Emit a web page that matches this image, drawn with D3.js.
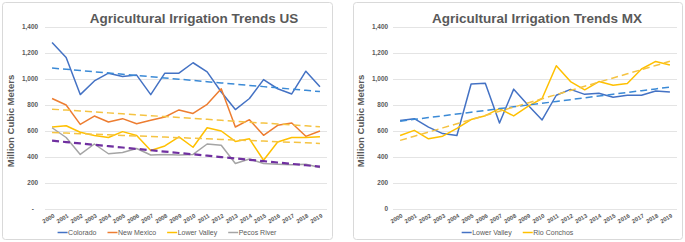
<!DOCTYPE html>
<html>
<head>
<meta charset="utf-8">
<script src="https://cdn.jsdelivr.net/npm/d3@7"></script>
<style>
  body { margin: 0; background: #fff; }
  svg { display: block; font-family: "Liberation Sans", Arial, sans-serif; }
</style>
</head>
<body>
<div id="charts"></div>
<script>
const years = ["2000","2001","2002","2003","2004","2005","2006","2007","2008","2009",
               "2010","2011","2012","2013","2014","2015","2016","2017","2018","2019"];
const yTicks = [0, 200, 400, 600, 800, 1000, 1200, 1400];

// US basins
const colorado     = [1280,1165,880,985,1045,1020,1030,880,1045,1045,1125,1055,900,765,850,995,925,885,1060,940];
const newMexico    = [850,800,651,715,669,695,656,682,708,762,735,805,925,631,687,567,644,662,559,600];
const lowerValleyUS = [630,640,590,565,550,595,565,450,485,555,475,625,600,520,540,375,515,550,550,555];
const pecosRiver   = [625,550,420,500,425,435,465,415,420,415,420,500,490,350,385,350,345,340,345,320];

// MX basins
const lowerValleyMX = [680,695,630,580,565,962,968,662,922,800,685,875,920,882,890,860,875,875,908,900];
const rioConchos    = [565,605,540,560,620,688,718,772,716,790,850,1102,980,917,980,952,965,1077,1135,1108];

const charts = [
  {
    title: "Agricultural Irrigation Trends US",
    box: {x: 2, y: 2, w: 330, h: 237},
    plot: {left: 45, right: 327},
    titleX: 194, labelX: 38, axisTitleX: 14, zeroLabel: "-",
    series: [
      {name: "Colorado", values: colorado, color: "#4472c4", trend: "#3b8ad6", tw: 1.5},
      {name: "New Mexico", values: newMexico, color: "#ed7d31", trend: "#f5c342", tw: 1.5},
      {name: "Lower Valley", values: lowerValleyUS, color: "#ffc000", trend: "#f5c342", tw: 1.5},
      {name: "Pecos River", values: pecosRiver, color: "#a5a5a5", trend: "#7030a0", tw: 2.2},
    ]
  },
  {
    title: "Agricultural Irrigation Trends MX",
    box: {x: 353, y: 2, w: 329, h: 237},
    plot: {left: 393, right: 677},
    titleX: 537, labelX: 388, axisTitleX: 364, zeroLabel: "0",
    series: [
      {name: "Lower Valley", values: lowerValleyMX, color: "#4472c4", trend: "#3b8ad6", tw: 1.5},
      {name: "Rio Conchos", values: rioConchos, color: "#ffc000", trend: "#f5c342", tw: 1.5},
    ]
  }
];

const svg = d3.select("#charts").append("svg")
  .attr("width", 685)
  .attr("height", 242);

const y = d3.scaleLinear().domain([0, 1400]).range([209, 27]);

// least squares line like the excel trendline
function trendline(vals) {
  const n = vals.length;
  const mx = (n - 1) / 2, my = d3.mean(vals);
  let sxy = 0, sxx = 0;
  vals.forEach((v, i) => { sxy += (i - mx) * (v - my); sxx += (i - mx) * (i - mx); });
  const b = sxy / sxx, a = my - b * mx;
  return vals.map((v, i) => a + b * i);
}

charts.forEach(c => {
  const g = svg.append("g");

  g.append("rect")
    .attr("x", c.box.x + 0.5).attr("y", c.box.y + 0.5)
    .attr("width", c.box.w).attr("height", c.box.h)
    .attr("rx", 3)
    .attr("fill", "#fff")
    .attr("stroke", "#d9d9d9");

  const x = d3.scalePoint()
    .domain(years)
    .range([c.plot.left, c.plot.right])
    .padding(0.5);

  // gridlines
  g.selectAll(".grid")
    .data(yTicks)
    .join("line")
    .attr("x1", c.plot.left).attr("x2", c.plot.right)
    .attr("y1", d => Math.round(y(d)) + 0.5).attr("y2", d => Math.round(y(d)) + 0.5)
    .attr("stroke", "#e4e4e4");

  // y labels
  g.selectAll(".ylab")
    .data(yTicks)
    .join("text")
    .attr("x", d => (d === 0 && c.zeroLabel === "-") ? c.labelX - 4 : c.labelX)
    .attr("y", d => y(d) + 2.3)
    .attr("text-anchor", "end")
    .attr("font-size", "6.4px")
    .attr("font-weight", "bold")
    .attr("fill", "#595959")
    .text(d => d === 0 ? c.zeroLabel : d3.format(",")(d));

  // x labels
  g.selectAll(".xlab")
    .data(years)
    .join("text")
    .attr("text-anchor", "end")
    .attr("font-size", "5.8px")
    .attr("font-weight", "bold")
    .attr("fill", "#595959")
    .attr("transform", d => `translate(${x(d) + 3},${217}) rotate(-30)`)
    .text(d => d);

  // axis title
  g.append("text")
    .attr("transform", `translate(${c.axisTitleX},${(y(0) + y(1400)) / 2 + 3}) rotate(-90)`)
    .attr("text-anchor", "middle")
    .attr("font-size", "9.5px")
    .attr("font-weight", "bold")
    .attr("fill", "#595959")
    .text("Million Cubic Meters");

  // title
  g.append("text")
    .attr("x", c.titleX)
    .attr("y", 23)
    .attr("text-anchor", "middle")
    .attr("font-size", "13.5px")
    .attr("font-weight", "bold")
    .attr("fill", "#595959")
    .text(c.title);

  const line = d3.line()
    .x((d, i) => x(years[i]))
    .y(d => y(d));

  c.series.forEach(s => {
    g.append("path")
      .attr("d", line(s.values))
      .attr("fill", "none")
      .attr("stroke", s.color)
      .attr("stroke-width", 1.5)
      .attr("stroke-linejoin", "round");
  });
  c.series.forEach(s => {
    g.append("path")
      .attr("d", line(trendline(s.values)))
      .attr("fill", "none")
      .attr("stroke", s.trend)
      .attr("stroke-width", s.tw)
      .attr("stroke-dasharray", "7,4");
  });

  // legend, centred in the panel
  const leg = g.append("g");
  let off = 0;
  c.series.forEach(s => {
    const item = leg.append("g").attr("transform", `translate(${off},0)`);
    item.append("line")
      .attr("x1", 0).attr("x2", 10)
      .attr("y1", 0).attr("y2", 0)
      .attr("stroke", s.color).attr("stroke-width", 1.5);
    const t = item.append("text")
      .attr("x", 10.5).attr("y", 2.5)
      .attr("font-size", "7px")
      .attr("fill", "#595959")
      .text(s.name);
    off += 10.5 + t.node().getComputedTextLength() + 11;
  });
  off -= 11;
  leg.attr("transform", `translate(${c.box.x + c.box.w / 2 - off / 2},${232.5})`);
});
</script>
</body>
</html>
